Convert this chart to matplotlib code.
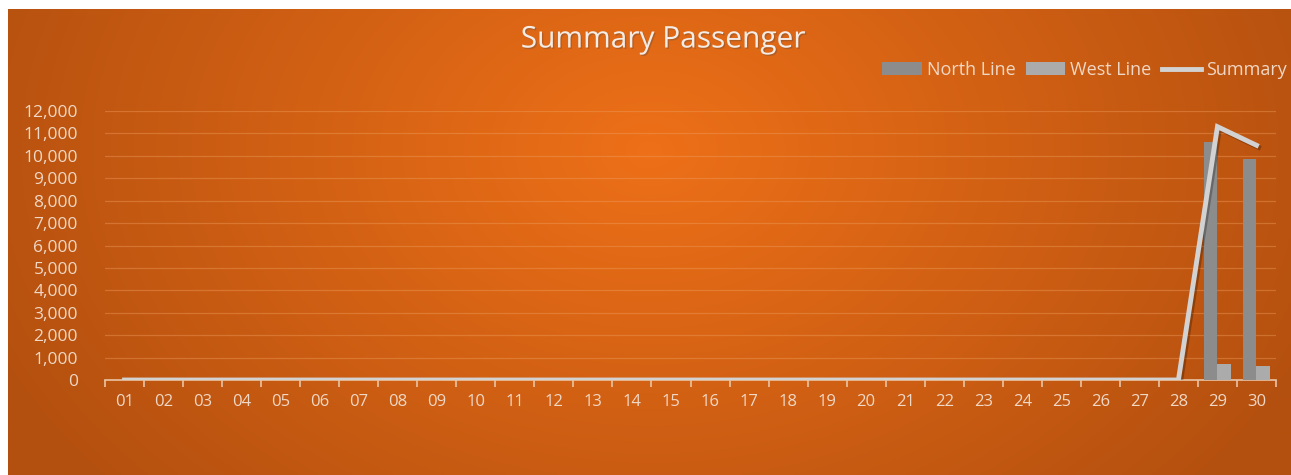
import numpy as np
import matplotlib
matplotlib.use("Agg")
import matplotlib.pyplot as plt
from matplotlib.patches import Patch
from matplotlib.lines import Line2D
import matplotlib.patheffects as pe

days = [f"{d:02d}" for d in range(1, 31)]
north_line = [0]*28 + [10600, 9850]
west_line = [0]*28 + [700, 620]
summary = [0]*28 + [11300, 10470]
yticks = list(range(0, 13000, 1000))

W, H = 1291, 475
fig = plt.figure(figsize=(W/100, H/100), dpi=100, facecolor="white")

# background gradient panel
bg = fig.add_axes([8/W, 0, 1 - 8/W, (H-9)/H])
bg.set_axis_off()
ny, nx = 200, 500
yy, xx = np.mgrid[0:ny, 0:nx]
px = 8 + xx/(nx-1)*(W-8)
py = 9 + yy/(ny-1)*(H-9)
cx, cy = 650, 150
r = np.sqrt(((px-cx)/720)**2 + ((py-cy)/520)**2)
r = np.clip(r, 0, 1)
c0 = np.array([0xEE, 0x70, 0x18])/255
c1 = np.array([0xB4, 0x50, 0x0F])/255
img = c0[None, None, :]*(1-r[..., None]) + c1[None, None, :]*r[..., None]
bg.imshow(img, aspect="auto", extent=[0, 1, 0, 1], origin="upper")
bg.set_xlim(0, 1); bg.set_ylim(0, 1)

left, right, bottom, top = 105, 1276, 380, 111
ax = fig.add_axes([left/W, 1-bottom/H, (right-left)/W, (bottom-top)/H])
ax.patch.set_alpha(0)

x = np.arange(len(days))
bw = 0.35
ax.bar(x - bw/2, north_line, width=bw, color="#8c8c8c", zorder=3)
ax.bar(x + bw/2, west_line, width=bw, color="#ababab", zorder=3)
ax.plot(x, summary, color="#d2d2d2", lw=3.5, zorder=4, solid_joinstyle="miter",
        path_effects=[pe.SimpleLineShadow(offset=(1.5, -1.5), alpha=0.25), pe.Normal()])

ax.set_xlim(-0.5, len(days)-0.5)
ax.set_ylim(0, 12000)
ax.set_yticks(yticks)
ax.set_yticklabels([f"{v:,}" for v in yticks])
for v in yticks[1:]:
    ax.axhline(v, color="#f0a060", lw=0.9, alpha=0.4, zorder=1)

ax.set_xticks(x)
ax.set_xticklabels(days)
ax.set_xticks(np.arange(-0.5, len(days)), minor=True)
ax.tick_params(axis="x", which="major", length=0, pad=10, labelsize=12, labelcolor="#f0d8c6")
ax.tick_params(axis="x", which="minor", length=5, color="#e8c4a4", width=1.2)
ax.tick_params(axis="y", length=0, pad=19.5, labelsize=12.5, labelcolor="#f0d8c6")
for t in ax.get_xticklabels() + ax.get_yticklabels():
    t.set_family("Open Sans")

for s in ["top", "right", "left"]:
    ax.spines[s].set_visible(False)
ax.spines["bottom"].set_color("#e8c4a4")
ax.spines["bottom"].set_linewidth(1.2)

fig.text(663/W, 1-40/H, "Summary Passenger", ha="center", va="center",
         fontsize=21.5, color="#f4ece6", family="Open Sans",
         path_effects=[pe.withSimplePatchShadow(offset=(1, -1), alpha=0.3)])

handles = [Patch(facecolor="#8c8c8c", edgecolor="none"),
           Patch(facecolor="#ababab", edgecolor="none"),
           Line2D([0], [0], color="#d2d2d2", lw=3.5)]
leg = fig.legend(handles, ["North Line", "West Line", "Summary"], loc="center left",
                 bbox_to_anchor=(866/W, 1-70/H), ncol=3, frameon=False,
                 handlelength=2.2, handleheight=0.75, handletextpad=0.28, columnspacing=0.55,
                 prop={"family": "Open Sans", "size": 13})
for t in leg.get_texts():
    t.set_color("#f0d8c6")

fig.savefig("out.png", dpi=100, facecolor="white")
